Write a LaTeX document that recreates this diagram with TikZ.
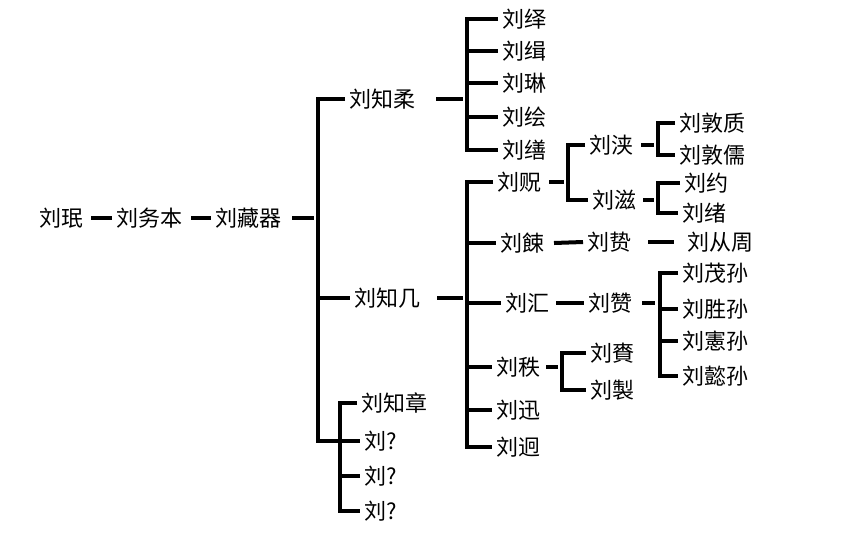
\documentclass[tikz,border=0pt]{standalone}
\usepackage{fontspec}
\setmainfont{Noto Sans CJK SC}
\tikzset{every picture/.style={line width=0.75pt}}
\begin{document}
\begin{tikzpicture}[x=0.75pt,y=0.75pt,yscale=-1,xscale=1, line width=3pt,
  person/.style={anchor=west, inner sep=1.5pt, font=\fontsize{16.5}{18}\selectfont}]
\useasboundingbox (0,0) rectangle (852,540);

% Text Node
\node[person] (liumin) at (35,218) {刘珉};
\node[person] (liuwuben) at (112,218) {刘务本};
\node[person] (liucangqi) at (211,218) {刘藏器};
% Text Node
\node[person] (liuzhirou) at (345,99) {刘知柔};
\node[person] (liuzhiji) at (350,298) {刘知几};
\node[person] (liuzhizhang) at (357,403) {刘知章};
\node[person] (liuqa) at (360,441) {刘?};
\node[person] (liuqb) at (360,476) {刘?};
\node[person] (liuqc) at (360,511) {刘?};
% Text Node
\node[person] (liuyi) at (498,19) {刘绎};
\node[person] (liuji) at (498,51) {刘缉};
\node[person] (liulin) at (498,83) {刘琳};
\node[person] (liuhui) at (498,117) {刘绘};
\node[person] (liushan) at (498,150) {刘缮};
% Text Node
\node[person] (liukuang) at (493,182) {刘贶};
\node[person] (liusu) at (496,243) {刘餗};
\node[person] (liuhuiz) at (501,303) {刘汇};
\node[person] (liuzhi) at (492,367) {刘秩};
\node[person] (liuxun) at (492,410) {刘迅};
\node[person] (liujiong) at (492,447) {刘迥};
% Text Node
\node[person] (liujia) at (585,145) {刘浃};
\node[person] (liuzi) at (588,200) {刘滋};
\node[person] (liudunzhi) at (675,123) {刘敦质};
\node[person] (liudunru) at (675,155) {刘敦儒};
\node[person] (liuyue) at (680,183) {刘约};
\node[person] (liuxu) at (678,213) {刘绪};
% Text Node
\node[person] (liuzhiz) at (583,242) {刘贽};
\node[person] (liucongzhou) at (683,242) {刘从周};
\node[person] (liuzan) at (584,303) {刘赞};
\node[person] (liumaosun) at (678,273) {刘茂孙};
\node[person] (liushengsun) at (678,309) {刘胜孙};
\node[person] (liuxiansun) at (678,341) {刘憲孙};
\node[person] (liuyisun) at (678,376) {刘懿孙};
% Text Node
\node[person] (liulai) at (586,353) {刘賚};
\node[person] (liuzhizz) at (586,390) {刘製};

% Coordinates
\coordinate (cq-in) at (314,218);
\coordinate (zqbar) at (318,441);
\coordinate (zzbar) at (340,441);
\coordinate (zzbot) at (340,511);
\coordinate (zr-in) at (463,99);
\coordinate (zrbar) at (467,150);
\coordinate (zj-in) at (463,298);
\coordinate (zjbar) at (467,447);
\coordinate (kk-in) at (564,182);
\coordinate (kkbar) at (568,200);
\coordinate (jia-in) at (654,145);
\coordinate (jiabar) at (658,155);
\coordinate (zi-in) at (654,200);
\coordinate (zibar) at (658,213);
\coordinate (zan-in) at (655,303);
\coordinate (zanbar) at (660,376);
\coordinate (zhi-in) at (558,367);
\coordinate (zhibar) at (562,390);

%Straight Lines
\draw (liumin.east) ++(4,0) -- (liuwuben.west);
\draw (liuwuben.east) ++(5,0) -- (liucangqi.west);
\draw (liucangqi.east) ++(7,0) -- (cq-in);
%Straight Lines
\draw (liuzhirou.west) -| (zqbar) -- (zzbar);
\draw (zqbar |- liuzhiji.west) -- (liuzhiji.west);
\draw (liuzhizhang.west) -| (zzbot) -- (liuqc.west);
\draw (zzbar) -- (liuqa.west);
\draw (zzbar |- liuqb.west) -- (liuqb.west);
%Straight Lines
\draw (liuzhirou.east) ++(17,0) -- (zr-in);
\draw (liuyi.west) -| (zrbar) -- (liushan.west);
\draw (zrbar |- liuji.west) -- (liuji.west);
\draw (zrbar |- liulin.west) -- (liulin.west);
\draw (zrbar |- liuhui.west) -- (liuhui.west);
%Straight Lines
\draw (liuzhiji.east) ++(13,0) -- (zj-in);
\draw (liukuang.west) -| (zjbar) -- (liujiong.west);
\draw (zjbar |- liusu.west) -- (liusu.west);
\draw (zjbar |- liuhuiz.west) -- (liuhuiz.west);
\draw (zjbar |- liuzhi.west) -- (liuzhi.west);
\draw (zjbar |- liuxun.west) -- (liuxun.west);
%Straight Lines
\draw (liukuang.east) ++(4,0) -- (kk-in);
\draw (liujia.west) -| (kkbar) -- (liuzi.west);
\draw (liujia.east) ++(4,0) -- (jia-in);
\draw (liudunzhi.west) -| (jiabar) -- (liudunru.west);
\draw (liuzi.east) ++(3,0) -- (zi-in);
\draw (liuyue.west) -| (zibar) -- (liuxu.west);
%Straight Lines
\draw (liusu.east) ++(6,0) -- (liuzhiz.west);
\draw[shorten >=7pt] (liuzhiz.east) ++(13,0) -- (liucongzhou.west);
\draw (liuhuiz.east) ++(3,0) -- (liuzan.west);
\draw (liuzan.east) ++(6,0) -- (zan-in);
\draw (liumaosun.west) -| (zanbar) -- (liuyisun.west);
\draw (zanbar |- liushengsun.west) -- (liushengsun.west);
\draw (zanbar |- liuxiansun.west) -- (liuxiansun.west);
%Straight Lines
\draw (liuzhi.east) ++(2,0) -- (zhi-in);
\draw (liulai.west) -| (zhibar) -- (liuzhizz.west);

\end{tikzpicture}
\end{document}
